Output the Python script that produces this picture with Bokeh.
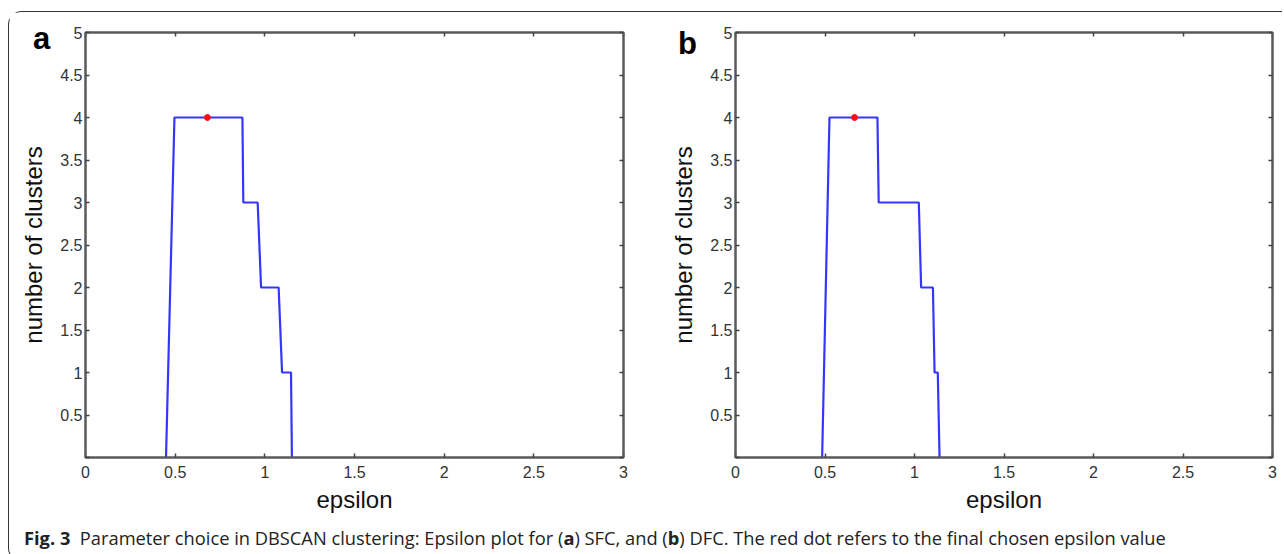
from bokeh.plotting import figure
from bokeh.models import LinearAxis, FixedTicker, Div, Range1d
from bokeh.layouts import row, column
from bokeh.embed import file_html
from bokeh.resources import INLINE

# ---- data ----
x_ticks = [0, 0.5, 1, 1.5, 2, 2.5, 3]
x_tick_labels = ["0", "0.5", "1", "1.5", "2", "2.5", "3"]
y_ticks = [0, 0.5, 1, 1.5, 2, 2.5, 3, 3.5, 4, 4.5, 5]
y_tick_labels = ["", "0.5", "1", "1.5", "2", "2.5", "3", "3.5", "4", "4.5", "5"]

eps_a = [0.449, 0.496, 0.875, 0.880, 0.960, 0.979, 1.077, 1.096, 1.146, 1.151]
clusters_a = [0, 4, 4, 3, 3, 2, 2, 1, 1, 0]
chosen_eps_a = [0.68]
chosen_n_a = [4]

eps_b = [0.484, 0.525, 0.793, 0.800, 1.024, 1.037, 1.103, 1.112, 1.130, 1.140]
clusters_b = [0, 4, 4, 3, 3, 2, 2, 1, 1, 0]
chosen_eps_b = [0.665]
chosen_n_b = [4]

FRAME = "#5a5a5a"
TICK_FONT = "Liberation Sans"


def make_panel(eps, n, ce, cn, width, left, right):
    p = figure(width=width, height=503, output_backend="svg", toolbar_location=None,
               x_range=Range1d(0, 3), y_range=Range1d(0, 5),
               min_border_left=left, min_border_right=right,
               min_border_top=20, min_border_bottom=58,
               x_axis_label="epsilon", y_axis_label="number of clusters")
    p.grid.visible = False
    p.outline_line_color = FRAME
    p.outline_line_width = 2
    p.background_fill_color = "white"
    p.border_fill_color = "white"

    for ax, ticks, labels in ((p.xaxis[0], x_ticks, x_tick_labels), (p.yaxis[0], y_ticks, y_tick_labels)):
        ax.ticker = FixedTicker(ticks=ticks)
        ax.major_label_overrides = {t: l for t, l in zip(ticks, labels)}
        ax.axis_line_color = FRAME
        ax.axis_line_width = 2
        ax.major_tick_line_color = "#444444"
        ax.major_tick_line_width = 1.5
        ax.major_tick_in = 4
        ax.major_tick_out = 0
        ax.minor_tick_line_color = None
        ax.major_label_text_font = TICK_FONT
        ax.major_label_text_font_size = "16px"
        ax.major_label_text_color = "#333333"
        ax.axis_label_text_font = "Liberation Sans"
        ax.axis_label_text_font_size = "24px"
        ax.axis_label_text_font_style = "normal"
        ax.axis_label_text_color = "#111111"
    p.xaxis.major_label_standoff = 8
    p.xaxis.axis_label_standoff = 5
    p.yaxis.major_label_standoff = 3
    p.yaxis.axis_label_standoff = 10

    # mirrored box ticks on top and right (no labels)
    for side, ticks in (("above", x_ticks), ("right", y_ticks)):
        ax = LinearAxis(ticker=FixedTicker(ticks=ticks), axis_line_color=FRAME, axis_line_width=2,
                        major_tick_in=4, major_tick_out=0, major_tick_line_color="#444444",
                        major_tick_line_width=1.5, minor_tick_line_color=None,
                        major_label_overrides={t: "" for t in ticks},
                        major_label_text_font_size="10px", major_label_standoff=0)
        p.add_layout(ax, side)

    p.line(eps, n, line_color="#1f1fff", line_width=2.2, line_alpha=0.9)
    p.scatter(ce, cn, size=6, color="#ff1010", line_color="#ff1010")
    return p


pa = make_panel(eps_a, clusters_a, chosen_eps_a, chosen_n_a, 648, 76, 34)
pb = make_panel(eps_b, clusters_b, chosen_eps_b, chosen_n_b, 625, 78, 10)

LETTER_STYLE = ("font-family:'Liberation Sans', Arial, sans-serif; font-weight:bold; "
                "font-size:31px; line-height:31px; color:#000;")
letter_a = Div(text=f'<div style="{LETTER_STYLE}">a</div>', width=30, height=31,
               styles={"position": "absolute", "left": "19px", "top": "6px", "z-index": "10"})
letter_b = Div(text=f'<div style="{LETTER_STYLE}">b</div>', width=30, height=31,
               styles={"position": "absolute", "left": "664px", "top": "11px", "z-index": "10"})

caption = Div(
    text='<div style="font-family:\'Open Sans\', sans-serif; font-size:18.3px; color:#222; '
         'padding-left:10px; padding-top:5px; white-space:nowrap;">'
         '<b>Fig. 3</b>&nbsp; Parameter choice in DBSCAN clustering: Epsilon plot for (<b>a</b>) SFC, '
         'and (<b>b</b>) DFC. The red dot refers to the final chosen epsilon value</div>',
    width=1260, height=36)

layout = column(row(pa, pb), caption, letter_a, letter_b,
                styles={"border-left": "1.5px solid #333", "border-top": "1.5px solid #333",
                        "border-bottom": "1.5px solid #333",
                        "border-top-left-radius": "14px", "border-bottom-left-radius": "14px",
                        "margin-top": "11px", "margin-left": "8px", "position": "relative"})

open("out.html", "w").write(file_html(layout, INLINE))
